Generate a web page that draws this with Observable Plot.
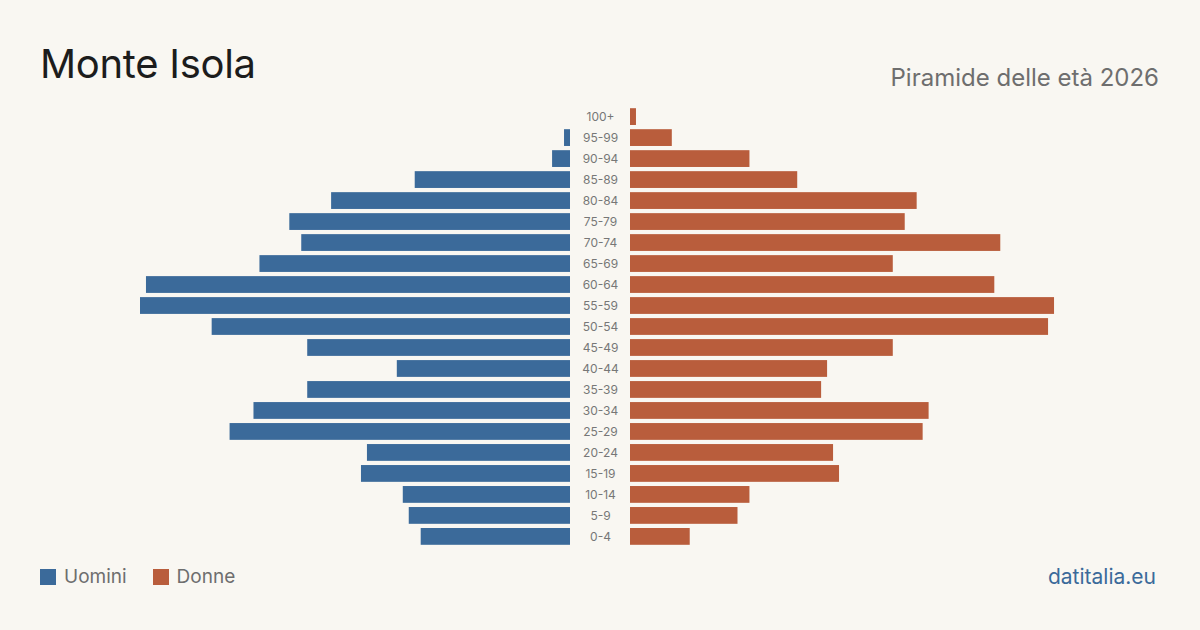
<!DOCTYPE html>
<html>
<head>
<meta charset="utf-8">
<script src="https://cdn.jsdelivr.net/npm/d3@7"></script>
<script src="https://cdn.jsdelivr.net/npm/@observablehq/plot@0.6"></script>
<style>
  html, body { margin: 0; padding: 0; background: #f9f7f2; }
  #wrap { position: relative; width: 1200px; height: 630px; overflow: hidden; background: #f9f7f2; font-family: Inter, "Noto Sans", sans-serif; }
  #title { position: absolute; left: 40px; top: 44px; font-size: 40px; color: #1c1c1c; font-weight: 400; line-height: 1; letter-spacing: -0.3px; }
  #subtitle { position: absolute; right: 41px; top: 66px; font-size: 24px; color: #6e6e6e; line-height: 1; }
  #legend { position: absolute; left: 40px; top: 567px; font-size: 19px; color: #6e6e6e; display: flex; align-items: center; line-height: 1; }
  .sw { display: inline-block; width: 16px; height: 16px; margin-right: 8px; }
  .item { display: flex; align-items: center; margin-right: 26px; }
  #source { position: absolute; right: 44px; top: 566px; font-size: 21px; color: #3b6a9a; line-height: 1; }
  #chart { position: absolute; left: 0; top: 0; }
</style>
</head>
<body>
<div id="wrap">
  <div id="chart"></div>
  <div id="title">Monte Isola</div>
  <div id="subtitle">Piramide delle età 2026</div>
  <div id="legend">
    <span class="item"><span class="sw" style="background:#3b6a9a"></span>Uomini</span>
    <span class="item"><span class="sw" style="background:#b95d3c"></span>Donne</span>
  </div>
  <div id="source">datitalia.eu</div>
</div>
<script>
const ages = ["100+","95-99","90-94","85-89","80-84","75-79","70-74","65-69","60-64","55-59","50-54","45-49","40-44","35-39","30-34","25-29","20-24","15-19","10-14","5-9","0-4"];
const men   = [0, 1, 3, 26, 40, 47, 45, 52, 71, 72, 60, 44, 29, 44, 53, 57, 34, 35, 28, 27, 25];
const women = [1, 7, 20, 28, 48, 46, 62, 44, 61, 71, 70, 44, 33, 32, 50, 49, 34, 35, 20, 18, 10];

const colors = { men: "#3b6a9a", women: "#b95d3c" };

const maxV = d3.max([...men, ...women]);
// centre gap (for the age labels) expressed relative to the bar extent: 30px out of 430px
const gap = maxV * 30 / 430;

const rows = ages.map((a, i) => ({ age: a, men: men[i], women: women[i] }));

const chart = Plot.plot({
  width: 1200,
  height: 630,
  marginTop: 104,
  marginBottom: 81,
  marginLeft: 140,
  marginRight: 140,
  style: { background: "transparent", fontFamily: "Inter, 'Noto Sans', sans-serif" },
  x: { domain: [-(maxV + gap), maxV + gap], axis: null },
  y: { domain: ages, padding: 0.2, round: false, axis: null },
  marks: [
    Plot.barX(rows.filter(d => d.men > 0), {
      y: "age",
      x1: -gap,
      x2: d => -(gap + d.men),
      fill: colors.men
    }),
    Plot.barX(rows.filter(d => d.women > 0), {
      y: "age",
      x1: gap,
      x2: d => gap + d.women,
      fill: colors.women
    }),
    Plot.text(rows, {
      y: "age",
      x: 0,
      text: "age",
      fill: "#777777",
      fontSize: 12,
      textAnchor: "middle"
    })
  ]
});
document.getElementById("chart").appendChild(chart);
</script>
</body>
</html>
